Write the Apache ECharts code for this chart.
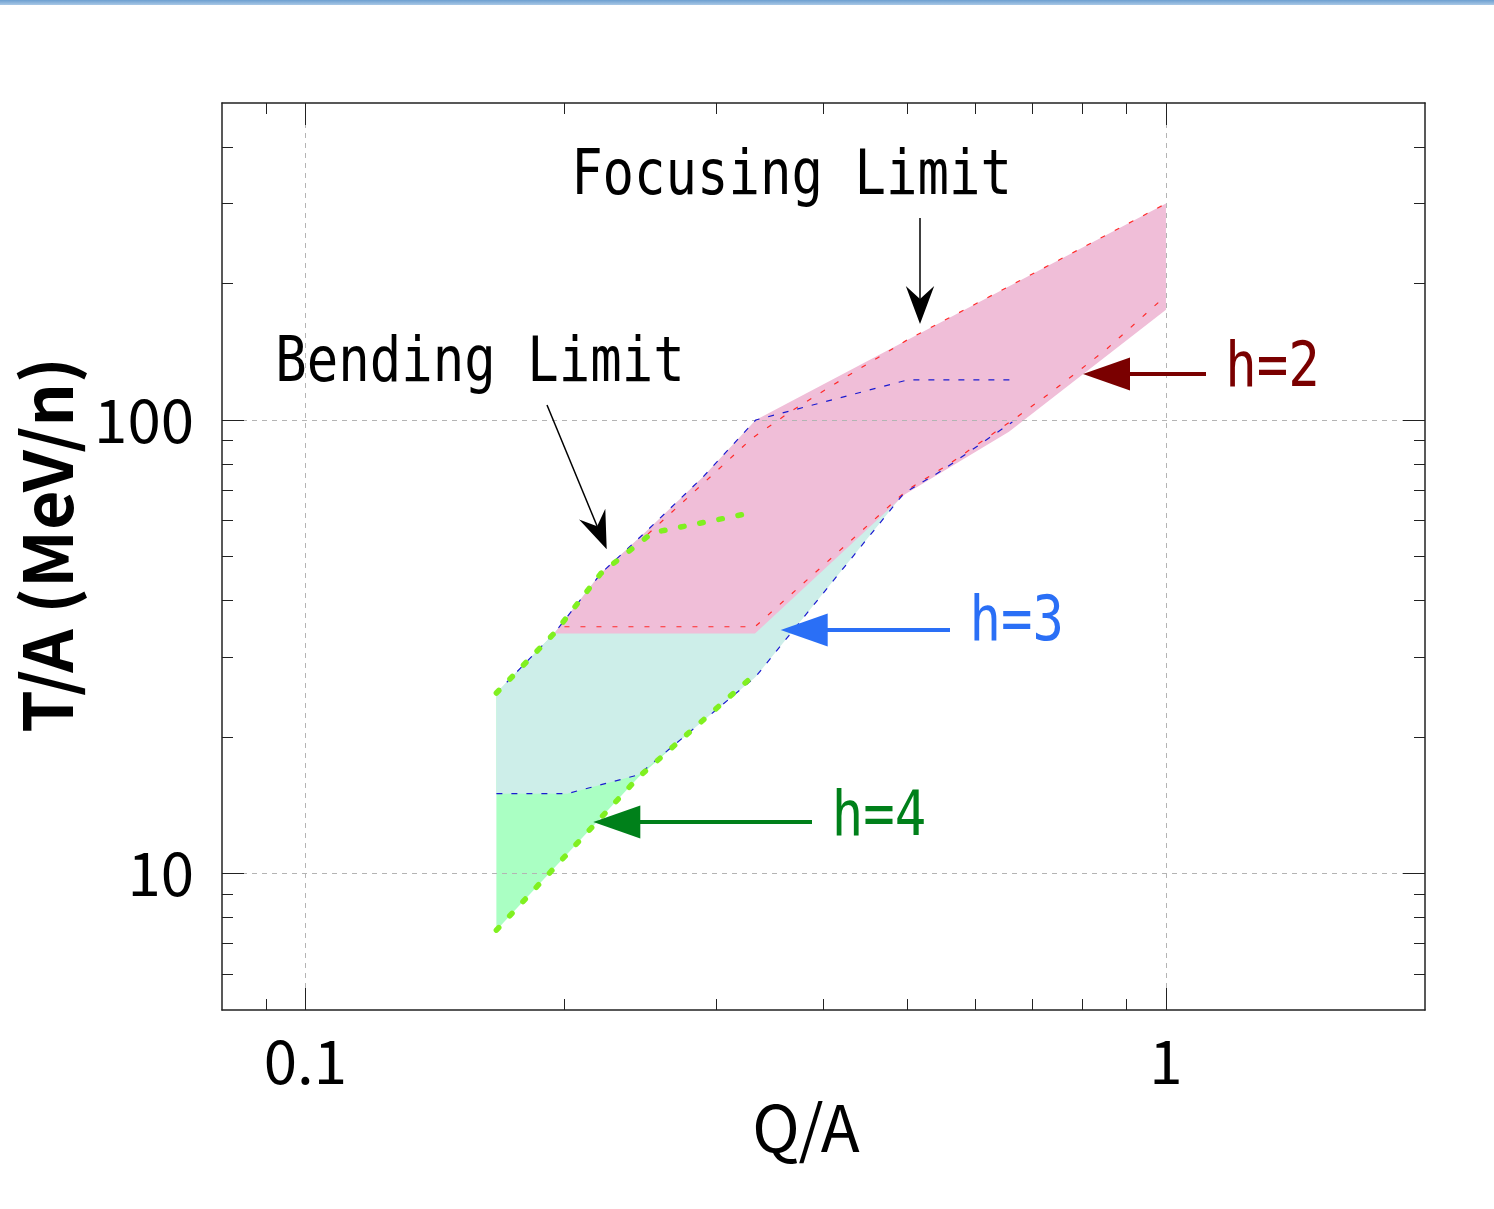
<!DOCTYPE html>
<html>
<head>
<meta charset="utf-8">
<script src="https://cdn.jsdelivr.net/npm/echarts@6/dist/echarts.min.js"></script>
<style>
html,body{margin:0;padding:0;background:#fff;}
#c{width:1494px;height:1209px;}
</style>
</head>
<body>
<div id="c"></div>
<script>
// ---------- axes ----------
const xRange = [0.08, 2];
const yRange = [5, 500];
const xMajorTicks = [0.1, 1];
const xMinorTicks = [0.09, 0.2, 0.3, 0.4, 0.5, 0.6, 0.7, 0.8, 0.9];
const yMajorTicks = [10, 100];
const yMinorTicks = [6, 7, 8, 9, 20, 30, 40, 50, 60, 70, 80, 90, 200, 300, 400];
const xTickLabels = ['0.1', '1'];
const yTickLabels = ['10', '100'];
const xTitle = 'Q/A';
const yTitle = 'T/A (MeV/n)';

// ---------- acceptance regions [Q/A, T/A] ----------
const h4Region = [[0.1667, 7.5], [0.1667, 25], [0.195, 34], [0.2205, 45.9], [0.253, 56.4],
  [0.3337, 62.7], [0.333, 27.5], [0.2438, 16.3]];
const h3Region = [[0.1667, 15], [0.1667, 25], [0.195, 34], [0.2205, 45.9], [0.2487, 56.7],
  [0.29, 75], [0.3337, 100], [0.5014, 122.6], [0.663, 122.6], [0.663, 99], [0.55, 77.5],
  [0.4963, 69], [0.3333, 27.1], [0.2438, 16.5], [0.2015, 15]];
const h2Region = [[0.1946, 33.8], [0.2205, 45.9], [0.2487, 56.7], [0.29, 75], [0.3337, 100],
  [1, 300], [1, 175], [0.657, 94.2], [0.497, 68.5], [0.333, 33.8]];

// ---------- limit lines [Q/A, T/A] ----------
const h2LowerLine = [[0.2, 35], [0.333, 35], [0.5, 70], [0.56, 80], [0.672, 101.7],
  [0.728, 113.5], [0.851, 142.7], [1, 188]];
const h2UpperLine = [[0.25, 56], [0.29, 72.5], [0.33, 91], [0.368, 105], [0.4285, 125.7],
  [0.5, 150], [1, 300]];
const h3UpperLine = [[0.1667, 25], [0.195, 34], [0.2205, 45.9], [0.2487, 56.7], [0.29, 75],
  [0.3337, 100], [0.5014, 122.6], [0.663, 122.6]];
const h3LowerLine = [[0.1667, 15], [0.2015, 15], [0.2438, 16.5], [0.3333, 27.1], [0.4963, 69],
  [0.55, 77.5], [0.663, 99]];
const h4UpperLine = [[0.1667, 25], [0.195, 34], [0.2205, 45.9], [0.253, 56.4], [0.3337, 62.7]];
const h4LowerLine = [[0.1667, 7.5], [0.2438, 16.3], [0.333, 27.5]];

// ---------- styling ----------
const FRAME = '#222';
const LABEL_FONT = "'Noto Sans CJK JP', 'Noto Sans', sans-serif";
const NOTE_FONT = "'DejaVu Sans Mono', 'Liberation Mono', monospace";
const gridLine = { show: true, lineStyle: { color: '#b4b4b4', width: 1, type: [5, 5] } };

function nearestLabel(v, ticks, labels) {
  let best = 0, bd = Infinity;
  ticks.forEach((t, i) => { const d = Math.abs(Math.log10(v) - Math.log10(t)); if (d < bd) { bd = d; best = i; } });
  return labels[best];
}

function baseLog(range, position) {
  return {
    type: 'log', logBase: 10, min: range[0], max: range[1], position: position, z: 3,
    axisLine: { show: false, onZero: false },
    axisTick: { show: false },
    axisLabel: { show: false },
    splitLine: { show: false },
    minorTick: { show: false },
    minorSplitLine: { show: false }
  };
}
function tickAxis(range, position, ticks, len, withLine) {
  const a = baseLog(range, position);
  a.axisLine = { show: withLine, onZero: false, lineStyle: { color: FRAME, width: 1.5 } };
  a.axisTick = { show: true, inside: true, length: len, customValues: ticks, lineStyle: { color: FRAME, width: 1 } };
  return a;
}

const xMain = tickAxis(xRange, 'bottom', xMajorTicks, 22, true);
xMain.axisLabel = {
  show: true, customValues: xMajorTicks, margin: 21,
  formatter: v => nearestLabel(v, xMajorTicks, xTickLabels),
  fontFamily: LABEL_FONT, fontSize: 60, color: '#000'
};
xMain.splitLine = gridLine;
xMain.name = xTitle;
xMain.nameLocation = 'middle';
xMain.nameGap = 80;
xMain.nameTextStyle = { fontFamily: LABEL_FONT, fontSize: 64, color: '#000', padding: [0, 35, 0, 0] };

const yMain = tickAxis(yRange, 'left', yMajorTicks, 22, true);
yMain.axisLabel = {
  show: true, customValues: yMajorTicks, margin: 28,
  formatter: v => nearestLabel(v, yMajorTicks, yTickLabels),
  fontFamily: LABEL_FONT, fontSize: 60, color: '#000', padding: [14, 0, 0, 0]
};
yMain.splitLine = gridLine;
yMain.name = yTitle;
yMain.nameLocation = 'middle';
yMain.nameGap = 141;
yMain.nameTextStyle = { fontFamily: LABEL_FONT, fontWeight: 'bold', fontSize: 68, color: '#000', padding: [0, 0, 0, 23] };

const xAxes = [xMain,
  tickAxis(xRange, 'bottom', xMinorTicks, 11, false),
  tickAxis(xRange, 'top', xMajorTicks, 22, true),
  tickAxis(xRange, 'top', xMinorTicks, 11, false)];
const yAxes = [yMain,
  tickAxis(yRange, 'left', yMinorTicks, 11, false),
  tickAxis(yRange, 'right', yMajorTicks, 22, true),
  tickAxis(yRange, 'right', yMinorTicks, 11, false)];

function regionSeries(name, points, color) {
  return {
    name: name, type: 'custom', xAxisIndex: 0, yAxisIndex: 0, z: 1, silent: true,
    data: points, encode: { x: 0, y: 1 },
    renderItem: function (params, api) {
      if (params.dataIndex !== 0) return null;
      return {
        type: 'polygon',
        shape: { points: points.map(p => api.coord(p)) },
        style: { fill: color }
      };
    }
  };
}
function limitLine(name, points, color, width, dash, cap) {
  return {
    name: name, type: 'line', xAxisIndex: 0, yAxisIndex: 0, z: 4, silent: true,
    data: points, symbol: 'none', showSymbol: false,
    lineStyle: { color: color, width: width, type: dash, cap: cap || 'butt' }
  };
}

// ---------- annotations ----------
function note(text, cx, cy, color) {
  return {
    type: 'text', x: cx, y: cy, scaleX: 0.83, z: 10,
    style: { text: text, fill: color, font: '63px ' + NOTE_FONT, align: 'center', verticalAlign: 'middle' }
  };
}
function fatArrow(x0, x1, y, color) {
  return [
    { type: 'line', z: 10, shape: { x1: x0 + 45, y1: y, x2: x1, y2: y }, style: { stroke: color, lineWidth: 4 } },
    { type: 'polygon', z: 10, shape: { points: [[x0, y], [x0 + 47, y - 16.5], [x0 + 47, y + 16.5]] }, style: { fill: color } }
  ];
}
function thinArrow(x0, y0, tx, ty) {
  const dx = tx - x0, dy = ty - y0, L = Math.hypot(dx, dy), ux = dx / L, uy = dy / L, px = -uy, py = ux;
  const bx = tx - 38 * ux, by = ty - 38 * uy, nx = tx - 25 * ux, ny = ty - 25 * uy;
  return [
    { type: 'line', z: 10, shape: { x1: x0, y1: y0, x2: nx, y2: ny }, style: { stroke: '#000', lineWidth: 1.5 } },
    { type: 'polygon', z: 10, shape: { points: [[tx, ty], [bx + 14.2 * px, by + 14.2 * py], [nx, ny], [bx - 14.2 * px, by - 14.2 * py]] }, style: { fill: '#000' } }
  ];
}

const graphics = [
  { type: 'rect', shape: { x: 0, y: 0, width: 1494, height: 5 }, z: 10,
    style: { fill: new echarts.graphic.LinearGradient(0, 0, 0, 1, [{ offset: 0, color: '#6d9fd0' }, { offset: 1, color: '#a9c8e6' }]) } },
  note('Focusing Limit', 791.5, 178, '#000'),
  note('Bending Limit', 480, 365, '#000'),
  note('h=2', 1272.5, 370, '#7a0000'),
  note('h=3', 1016.7, 624, '#2a6ff6'),
  note('h=4', 879, 819, '#00801a'),
  ...thinArrow(920, 218, 920, 324),
  ...thinArrow(547, 405, 606.7, 549.3),
  ...fatArrow(1083, 1206, 374, '#7a0000'),
  ...fatArrow(780.7, 950, 630, '#2a6ff6'),
  ...fatArrow(593.3, 812, 822, '#00801a')
];

const chart = echarts.init(document.getElementById('c'), null, { renderer: 'canvas' });
chart.setOption({
  animation: false,
  backgroundColor: '#fff',
  grid: { left: 222, right: 69, top: 103, bottom: 199, containLabel: false, outerBoundsMode: 'none' },
  xAxis: xAxes,
  yAxis: yAxes,
  series: [
    regionSeries('h=4', h4Region, '#aaffc3'),
    regionSeries('h=3', h3Region, '#cdeee9'),
    regionSeries('h=2', h2Region, '#f0bed8'),
    limitLine('h=2 lower', h2LowerLine, '#ff2a2a', 1.2, [5, 11]),
    limitLine('h=2 upper', h2UpperLine, '#ff2a2a', 1.2, [5, 11]),
    limitLine('h=3 upper', h3UpperLine, '#1a1ad0', 1.2, [6, 9]),
    limitLine('h=3 lower', h3LowerLine, '#1a1ad0', 1.2, [6, 9]),
    limitLine('h=4 upper', h4UpperLine, '#80f020', 5.5, [3.5, 16], 'round'),
    limitLine('h=4 lower', h4LowerLine, '#80f020', 5.5, [3.5, 16], 'round')
  ],
  graphic: graphics
});
</script>
</body>
</html>
